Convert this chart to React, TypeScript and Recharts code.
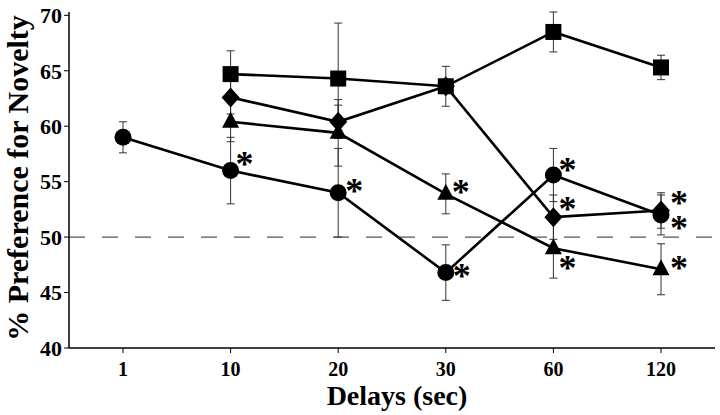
import { ComposedChart, Line, XAxis, YAxis, ErrorBar, ReferenceLine } from 'recharts';

const delays = ['1', '10', '20', '30', '60', '120'];

const squareMeans = [null, 64.7, 64.3, 63.6, 68.5, 65.3];
const squareErr = [null, 2.1, 5.0, 1.8, 1.8, 1.1];
const squareSig = [false, false, false, false, false, false];

const diamondMeans = [null, 62.6, 60.4, 63.6, 51.8, 52.4];
const diamondErr = [null, 1.5, 1.5, 0, 2.0, 1.6];
const diamondSig = [false, false, false, false, true, true];

const triangleMeans = [null, 60.4, 59.4, 53.9, 49.0, 47.1];
const triangleErr = [null, 1.8, 3.0, 1.8, 2.7, 2.3];
const triangleSig = [false, false, false, true, true, true];

const circleMeans = [59.0, 56.0, 54.0, 46.8, 55.6, 52.0];
const circleErr = [1.4, 3.0, 4.0, 2.5, 2.4, 1.8];
const circleSig = [false, true, true, true, true, true];

const yTicks = [40, 45, 50, 55, 60, 65, 70];

const rows = delays.map((d, i) => ({
  delay: d,
  square: squareMeans[i],
  squareErr: squareErr[i],
  diamond: diamondMeans[i],
  diamondErr: diamondErr[i],
  triangle: triangleMeans[i],
  triangleErr: triangleErr[i],
  circle: circleMeans[i],
  circleErr: circleErr[i],
}));

// where each asterisk sits relative to its marker (dx, dy)
const STAR_OFFSETS: Record<string, [number, number][]> = {
  square: [],
  diamond: [[0, 0], [0, 0], [0, 0], [0, 0], [14, -14], [18, -13]],
  triangle: [[0, 0], [0, 0], [0, 0], [15, -8], [14, 14], [18, -7]],
  circle: [[0, 0], [14, -13], [16, -8], [16, -3], [14, -11], [18, 7]],
};

const SERIF = '"Liberation Serif", "Times New Roman", serif';
const STAR_SIZE = 36;

function marker(kind: string, sig: boolean[]) {
  return (props: any) => {
    const { cx, cy, index } = props;
    const key = `${kind}-${index}`;
    if (cx == null || cy == null) return <g key={key} />;
    let shape;
    if (kind === 'square') {
      shape = <rect x={cx - 8} y={cy - 8} width={16} height={16} fill="#000" />;
    } else if (kind === 'diamond') {
      shape = <polygon points={`${cx},${cy - 10} ${cx + 9},${cy} ${cx},${cy + 10} ${cx - 9},${cy}`} fill="#000" />;
    } else if (kind === 'triangle') {
      shape = <polygon points={`${cx},${cy - 10} ${cx + 8.5},${cy + 6} ${cx - 8.5},${cy + 6}`} fill="#000" />;
    } else {
      shape = <circle cx={cx} cy={cy} r={8.5} fill="#000" />;
    }
    const off = STAR_OFFSETS[kind][index];
    return (
      <g key={key}>
        {shape}
        {sig[index] && off && (
          <text
            x={cx + off[0]}
            y={cy + off[1] + STAR_SIZE * 0.5}
            textAnchor="middle"
            fontFamily={SERIF}
            fontWeight="bold"
            fontSize={STAR_SIZE}
            fill="#000"
          >
            *
          </text>
        )}
      </g>
    );
  };
}

const XTitle = (props: any) => {
  const vb = props.viewBox;
  return (
    <text x={vb.x + vb.width / 2 + 5} y={vb.y + 57} textAnchor="middle" fontFamily={SERIF} fontWeight="bold" fontSize={28} fill="#000">
      Delays (sec)
    </text>
  );
};

const YTitle = (props: any) => {
  const vb = props.viewBox;
  const cx = vb.x + 28;
  const cy = vb.y + vb.height / 2 - 2;
  return (
    <text x={cx} y={cy} transform={`rotate(-90, ${cx}, ${cy})`} textAnchor="middle" fontFamily={SERIF} fontWeight="bold" fontSize={30} fill="#000">
      % Preference for Novelty
    </text>
  );
};

const xTickStyle = { fontFamily: SERIF, fontWeight: 'bold', fontSize: 20, fill: '#000' };
const yTickStyle = { fontFamily: SERIF, fontWeight: 'bold', fontSize: 22, fill: '#000' };

export default function App() {
  return (
    <div style={{ position: 'absolute', left: 0, top: 0, background: '#fff' }}>
      <ComposedChart width={720} height={415} data={rows} margin={{ top: 12, right: 5, bottom: 0, left: 0 }}>
        <XAxis
          dataKey="delay"
          type="category"
          height={67}
          padding={{ left: 54, right: 54 }}
          tickSize={5}
          tickMargin={9}
          tick={xTickStyle}
          stroke="#000"
          axisLine={{ stroke: '#000', strokeWidth: 1.5 }}
          label={{ content: XTitle }}
        />
        <YAxis
          domain={[40, 70]}
          ticks={yTicks}
          width={69}
          tickSize={5}
          tickMargin={2}
          tick={yTickStyle}
          stroke="#000"
          axisLine={{ stroke: '#000', strokeWidth: 1.5 }}
          label={{ content: YTitle }}
        />
        <ReferenceLine y={50} stroke="#555" strokeWidth={1.2} strokeDasharray="16 17" />
        <Line dataKey="circle" stroke="#000" strokeWidth={2.6} isAnimationActive={false} dot={marker('circle', circleSig)}>
          <ErrorBar dataKey="circleErr" width={4} stroke="#333" strokeWidth={1} direction="y" />
        </Line>
        <Line dataKey="triangle" stroke="#000" strokeWidth={2.6} isAnimationActive={false} dot={marker('triangle', triangleSig)}>
          <ErrorBar dataKey="triangleErr" width={4} stroke="#333" strokeWidth={1} direction="y" />
        </Line>
        <Line dataKey="diamond" stroke="#000" strokeWidth={2.6} isAnimationActive={false} dot={marker('diamond', diamondSig)}>
          <ErrorBar dataKey="diamondErr" width={4} stroke="#333" strokeWidth={1} direction="y" />
        </Line>
        <Line dataKey="square" stroke="#000" strokeWidth={2.6} isAnimationActive={false} dot={marker('square', squareSig)}>
          <ErrorBar dataKey="squareErr" width={4} stroke="#333" strokeWidth={1} direction="y" />
        </Line>
      </ComposedChart>
    </div>
  );
}
